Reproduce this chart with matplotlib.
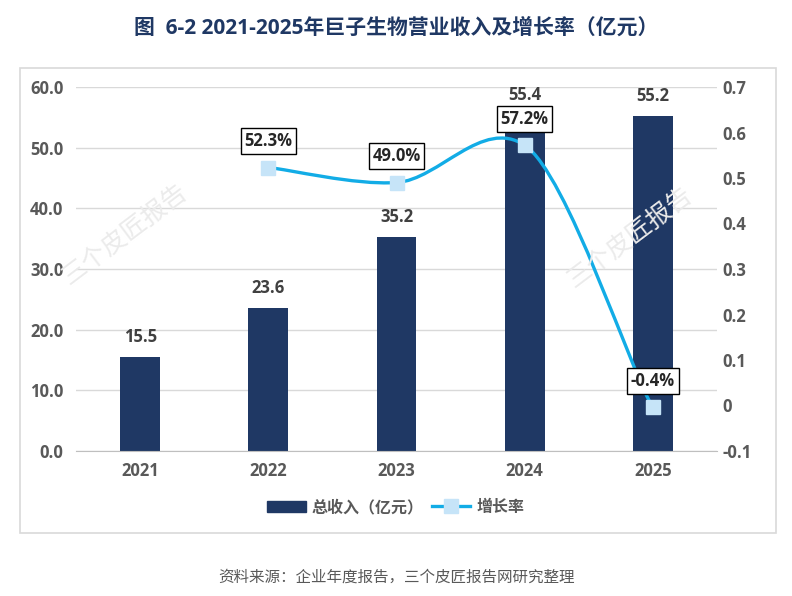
import matplotlib
matplotlib.use('Agg')
import matplotlib.pyplot as plt
from matplotlib.path import Path
from matplotlib.patches import PathPatch, Rectangle
from matplotlib.lines import Line2D

plt.rcParams['font.family'] = ['Open Sans', 'Noto Sans CJK SC', 'DejaVu Sans']

# Data
years = ['2021', '2022', '2023', '2024', '2025']
revenue = [15.5, 23.6, 35.2, 55.4, 55.2]
growth_years = ['2022', '2023', '2024', '2025']
growth = [0.523, 0.490, 0.572, -0.004]
growth_labels = ['52.3%', '49.0%', '57.2%', '-0.4%']

left_ticks = [0, 10, 20, 30, 40, 50, 60]
right_ticks = [-0.1, 0, 0.1, 0.2, 0.3, 0.4, 0.5, 0.6, 0.7]

bar_color = '#1F3864'
line_color = '#12ACE6'
marker_color = '#C6E4F8'
text_grey = '#595959'

fig = plt.figure(figsize=(7.92, 5.96), dpi=100)

# outer frame of the chart area
fig.patches.append(Rectangle((20 / 792, 1 - 533 / 596), 756 / 792, 465 / 596,
                             transform=fig.transFigure, fill=False,
                             edgecolor='#D9D9D9', linewidth=1.2))

ax = fig.add_axes([76 / 792, 1 - 451 / 596, 641 / 792, 364 / 596])
ax2 = ax.twinx()

x = list(range(len(years)))
ax.bar(x, revenue, width=0.31, color=bar_color, zorder=2)
for xi, v in zip(x, revenue):
    ax.annotate('%.1f' % v, (xi, v), xytext=(0, 14.5), textcoords='offset points',
                ha='center', va='center', fontsize=12, fontweight='bold',
                color='#404040')

ax.set_ylim(0, 60)
ax.set_xlim(-0.5, 4.5)
ax.set_yticks(left_ticks)
ax.set_yticklabels(['%.1f' % t for t in left_ticks])
ax.set_xticks(x)
ax.set_xticklabels(years)
ax.grid(axis='y', color='#D9D9D9', linewidth=1, zorder=0)
ax.set_axisbelow(True)
for s in ['left', 'right', 'top']:
    ax.spines[s].set_visible(False)
ax.spines['bottom'].set_color('#BFBFBF')
ax.tick_params(length=0, labelsize=12, labelcolor=text_grey)
ax.tick_params(axis='x', pad=8)
ax.tick_params(axis='y', pad=9)
for lbl in ax.get_xticklabels() + ax.get_yticklabels():
    lbl.set_fontweight('bold')

ax2.set_ylim(-0.1, 0.7)
ax2.set_yticks(right_ticks)
ax2.set_yticklabels(['%g' % t for t in right_ticks])
for s in ['left', 'right', 'top', 'bottom']:
    ax2.spines[s].set_visible(False)
ax2.tick_params(length=0, labelsize=12, labelcolor=text_grey, pad=4)
for lbl in ax2.get_yticklabels():
    lbl.set_fontweight('bold')

# smoothed growth line (bezier through the points, like excel)
k = 1 / 8
gx = [years.index(g) for g in growth_years]
pts = list(zip(gx, growth))
n = len(pts)
verts = [pts[0]]
codes = [Path.MOVETO]
for i in range(n - 1):
    p0 = pts[max(i - 1, 0)]
    p1 = pts[i]
    p2 = pts[i + 1]
    p3 = pts[min(i + 2, n - 1)]
    c1 = (p1[0] + (p2[0] - p0[0]) / 6, p1[1] + (p2[1] - p0[1]) * k)
    c2 = (p2[0] - (p3[0] - p1[0]) / 6, p2[1] - (p3[1] - p1[1]) * k)
    verts += [c1, c2, p2]
    codes += [Path.CURVE4] * 3
ax2.add_patch(PathPatch(Path(verts, codes), fill=False, edgecolor=line_color,
                        linewidth=2.4, zorder=3))
ax2.plot(gx, growth, linestyle='none', marker='s', markersize=10,
         markerfacecolor=marker_color, markeredgecolor=marker_color, zorder=4)
for xi, v, t in zip(gx, growth, growth_labels):
    ax2.annotate(t, (xi, v), xytext=(0, 19), textcoords='offset points',
                 ha='center', va='center', fontsize=12, fontweight='bold',
                 color='#262626',
                 bbox=dict(boxstyle='square,pad=0.22', facecolor='white',
                           edgecolor='black', linewidth=1))

# watermarks
for wx, wy in [(125, 235), (630, 238)]:
    fig.text(wx / 792, 1 - wy / 596, '三个皮匠报告', rotation=37, ha='center',
             va='center', fontsize=18, fontweight='light', color='#EBEBEB',
             zorder=10)

fig.text(0.5, 1 - 28 / 596, '图  6-2 2021-2025年巨子生物营业收入及增长率（亿元）',
         ha='center', va='center', fontsize=15, fontweight='bold',
         color='#1F3864')

handles = [Rectangle((0, 0), 1, 1, color=bar_color),
           Line2D([], [], color=line_color, linewidth=2.4, marker='s',
                  markersize=10, markerfacecolor=marker_color,
                  markeredgecolor=marker_color)]
leg = fig.legend(handles, ['总收入（亿元）', '增长率'], loc='center',
                 bbox_to_anchor=(0.5, 1 - 508 / 596), ncol=2, frameon=False,
                 fontsize=11.5, handlelength=2.4, columnspacing=0.5,
                 handletextpad=0.4)
for t in leg.get_texts():
    t.set_fontweight('bold')
    t.set_color(text_grey)

fig.text(0.5, 1 - 578 / 596, '资料来源：企业年度报告，三个皮匠报告网研究整理',
         ha='center', va='center', fontsize=11.2, color=text_grey)

fig.savefig('out.png', dpi=100)
